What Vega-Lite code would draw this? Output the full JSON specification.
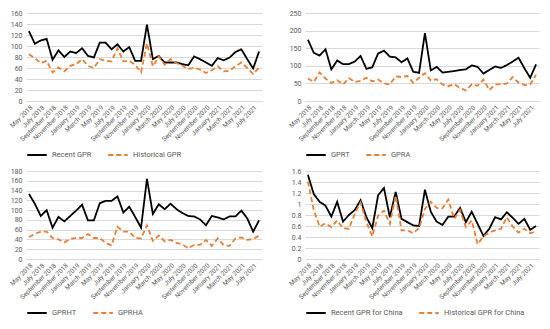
{
  "$schema": "https://vega.github.io/schema/vega-lite/v6.json",
  "padding": {"left": 8, "top": 9, "right": 6, "bottom": 2},
  "background": "white",
  "datasets": {
    "d": [
      {"m": "May 2018", "Recent GPR": 127, "Historical GPR": 85, "GPRT": 174, "GPRA": 64, "GPRHT": 133, "GPRHA": 45, "Recent GPR for China": 1.53, "Historical GPR for China": 1.41},
      {"m": "June 2018", "Recent GPR": 104, "Historical GPR": 78, "GPRT": 137, "GPRA": 54, "GPRHT": 113, "GPRHA": 51, "Recent GPR for China": 1.18, "Historical GPR for China": 0.89},
      {"m": "July 2018", "Recent GPR": 110, "Historical GPR": 69, "GPRT": 129, "GPRA": 81, "GPRHT": 88, "GPRHA": 56, "Recent GPR for China": 1.04, "Historical GPR for China": 0.59},
      {"m": "August 2018", "Recent GPR": 113, "Historical GPR": 73, "GPRT": 147, "GPRA": 64, "GPRHT": 100, "GPRHA": 56, "Recent GPR for China": 0.97, "Historical GPR for China": 0.65},
      {"m": "September 2018", "Recent GPR": 75, "Historical GPR": 52, "GPRT": 90, "GPRA": 51, "GPRHT": 64, "GPRHA": 43, "Recent GPR for China": 0.77, "Historical GPR for China": 0.58},
      {"m": "October 2018", "Recent GPR": 92, "Historical GPR": 61, "GPRT": 115, "GPRA": 59, "GPRHT": 86, "GPRHA": 40, "Recent GPR for China": 1.04, "Historical GPR for China": 0.70},
      {"m": "November 2018", "Recent GPR": 80, "Historical GPR": 54, "GPRT": 105, "GPRA": 47, "GPRHT": 77, "GPRHA": 34, "Recent GPR for China": 0.68, "Historical GPR for China": 0.56},
      {"m": "December 2018", "Recent GPR": 90, "Historical GPR": 64, "GPRT": 105, "GPRA": 65, "GPRHT": 88, "GPRHA": 41, "Recent GPR for China": 0.80, "Historical GPR for China": 0.55},
      {"m": "January 2019", "Recent GPR": 87, "Historical GPR": 67, "GPRT": 112, "GPRA": 54, "GPRHT": 99, "GPRHA": 43, "Recent GPR for China": 0.89, "Historical GPR for China": 0.82},
      {"m": "February 2019", "Recent GPR": 96, "Historical GPR": 76, "GPRT": 128, "GPRA": 57, "GPRHT": 111, "GPRHA": 43, "Recent GPR for China": 1.07, "Historical GPR for China": 1.03},
      {"m": "March 2019", "Recent GPR": 82, "Historical GPR": 64, "GPRT": 91, "GPRA": 66, "GPRHT": 79, "GPRHA": 51, "Recent GPR for China": 0.76, "Historical GPR for China": 0.67},
      {"m": "April 2019", "Recent GPR": 79, "Historical GPR": 60, "GPRT": 96, "GPRA": 56, "GPRHT": 79, "GPRHA": 43, "Recent GPR for China": 0.56, "Historical GPR for China": 0.41},
      {"m": "May 2019", "Recent GPR": 106, "Historical GPR": 76, "GPRT": 135, "GPRA": 61, "GPRHT": 114, "GPRHA": 43, "Recent GPR for China": 1.16, "Historical GPR for China": 0.79},
      {"m": "June 2019", "Recent GPR": 106, "Historical GPR": 73, "GPRT": 143, "GPRA": 50, "GPRHT": 119, "GPRHA": 33, "Recent GPR for China": 1.29, "Historical GPR for China": 0.88},
      {"m": "July 2019", "Recent GPR": 94, "Historical GPR": 72, "GPRT": 126, "GPRA": 47, "GPRHT": 119, "GPRHA": 28, "Recent GPR for China": 0.76, "Historical GPR for China": 0.64},
      {"m": "August 2019", "Recent GPR": 103, "Historical GPR": 96, "GPRT": 124, "GPRA": 70, "GPRHT": 128, "GPRHA": 66, "Recent GPR for China": 1.22, "Historical GPR for China": 1.15},
      {"m": "September 2019", "Recent GPR": 90, "Historical GPR": 72, "GPRT": 110, "GPRA": 68, "GPRHT": 95, "GPRHA": 56, "Recent GPR for China": 0.73, "Historical GPR for China": 0.52},
      {"m": "October 2019", "Recent GPR": 98, "Historical GPR": 73, "GPRT": 121, "GPRA": 71, "GPRHT": 107, "GPRHA": 56, "Recent GPR for China": 0.67, "Historical GPR for China": 0.52},
      {"m": "November 2019", "Recent GPR": 73, "Historical GPR": 66, "GPRT": 83, "GPRA": 52, "GPRHT": 86, "GPRHA": 43, "Recent GPR for China": 0.61, "Historical GPR for China": 0.47},
      {"m": "December 2019", "Recent GPR": 73, "Historical GPR": 52, "GPRT": 80, "GPRA": 66, "GPRHT": 64, "GPRHA": 42, "Recent GPR for China": 0.60, "Historical GPR for China": 0.56},
      {"m": "January 2020", "Recent GPR": 139, "Historical GPR": 105, "GPRT": 193, "GPRA": 79, "GPRHT": 164, "GPRHA": 69, "Recent GPR for China": 1.26, "Historical GPR for China": 0.91},
      {"m": "February 2020", "Recent GPR": 76, "Historical GPR": 63, "GPRT": 87, "GPRA": 58, "GPRHT": 92, "GPRHA": 37, "Recent GPR for China": 0.86, "Historical GPR for China": 1.04},
      {"m": "March 2020", "Recent GPR": 82, "Historical GPR": 81, "GPRT": 97, "GPRA": 62, "GPRHT": 112, "GPRHA": 48, "Recent GPR for China": 0.68, "Historical GPR for China": 0.93},
      {"m": "April 2020", "Recent GPR": 70, "Historical GPR": 66, "GPRT": 81, "GPRA": 47, "GPRHT": 102, "GPRHA": 36, "Recent GPR for China": 0.62, "Historical GPR for China": 0.92},
      {"m": "May 2020", "Recent GPR": 70, "Historical GPR": 76, "GPRT": 83, "GPRA": 42, "GPRHT": 113, "GPRHA": 39, "Recent GPR for China": 0.77, "Historical GPR for China": 1.08},
      {"m": "June 2020", "Recent GPR": 70, "Historical GPR": 69, "GPRT": 85, "GPRA": 48, "GPRHT": 102, "GPRHA": 33, "Recent GPR for China": 0.77, "Historical GPR for China": 0.73},
      {"m": "July 2020", "Recent GPR": 67, "Historical GPR": 64, "GPRT": 88, "GPRA": 37, "GPRHT": 94, "GPRHA": 30, "Recent GPR for China": 0.93, "Historical GPR for China": 0.89},
      {"m": "August 2020", "Recent GPR": 65, "Historical GPR": 58, "GPRT": 90, "GPRA": 30, "GPRHT": 88, "GPRHA": 22, "Recent GPR for China": 0.67, "Historical GPR for China": 0.58},
      {"m": "September 2020", "Recent GPR": 81, "Historical GPR": 61, "GPRT": 101, "GPRA": 47, "GPRHT": 87, "GPRHA": 29, "Recent GPR for China": 0.86, "Historical GPR for China": 0.70},
      {"m": "October 2020", "Recent GPR": 76, "Historical GPR": 57, "GPRT": 97, "GPRA": 43, "GPRHT": 81, "GPRHA": 29, "Recent GPR for China": 0.64, "Historical GPR for China": 0.27},
      {"m": "November 2020", "Recent GPR": 70, "Historical GPR": 51, "GPRT": 78, "GPRA": 61, "GPRHT": 69, "GPRHA": 39, "Recent GPR for China": 0.42, "Historical GPR for China": 0.41},
      {"m": "December 2020", "Recent GPR": 64, "Historical GPR": 56, "GPRT": 88, "GPRA": 31, "GPRHT": 88, "GPRHA": 27, "Recent GPR for China": 0.55, "Historical GPR for China": 0.48},
      {"m": "January 2021", "Recent GPR": 78, "Historical GPR": 63, "GPRT": 98, "GPRA": 47, "GPRHT": 85, "GPRHA": 42, "Recent GPR for China": 0.76, "Historical GPR for China": 0.52},
      {"m": "February 2021", "Recent GPR": 74, "Historical GPR": 54, "GPRT": 94, "GPRA": 47, "GPRHT": 81, "GPRHA": 28, "Recent GPR for China": 0.72, "Historical GPR for China": 0.55},
      {"m": "March 2021", "Recent GPR": 79, "Historical GPR": 55, "GPRT": 102, "GPRA": 50, "GPRHT": 87, "GPRHA": 27, "Recent GPR for China": 0.85, "Historical GPR for China": 0.76},
      {"m": "April 2021", "Recent GPR": 89, "Historical GPR": 63, "GPRT": 112, "GPRA": 68, "GPRHT": 87, "GPRHA": 42, "Recent GPR for China": 0.75, "Historical GPR for China": 0.59},
      {"m": "May 2021", "Recent GPR": 94, "Historical GPR": 70, "GPRT": 123, "GPRA": 52, "GPRHT": 99, "GPRHA": 44, "Recent GPR for China": 0.64, "Historical GPR for China": 0.48},
      {"m": "June 2021", "Recent GPR": 76, "Historical GPR": 60, "GPRT": 93, "GPRA": 45, "GPRHT": 83, "GPRHA": 39, "Recent GPR for China": 0.73, "Historical GPR for China": 0.55},
      {"m": "July 2021", "Recent GPR": 59, "Historical GPR": 49, "GPRT": 66, "GPRA": 47, "GPRHT": 56, "GPRHA": 41, "Recent GPR for China": 0.53, "Historical GPR for China": 0.47},
      {"m": "August 2021", "Recent GPR": 90, "Historical GPR": 61, "GPRT": 104, "GPRA": 75, "GPRHT": 79, "GPRHA": 48, "Recent GPR for China": 0.60, "Historical GPR for China": 0.50}
    ]
  },
  "config": {
    "font": "Roboto",
    "view": {"stroke": null},
    "axis": {"labelColor": "#595959", "labelFontSize": 7, "ticks": false, "title": null, "gridColor": "#d9d9d9", "domainColor": "#d9d9d9", "labelPadding": 4},
    "axisX": {"labelAngle": -45, "grid": false, "domain": true, "labelFontSize": 6.5, "labelPadding": 3},
    "axisY": {"domain": false, "grid": true},
    "legend": {"orient": "bottom", "direction": "horizontal", "title": null, "labelColor": "#595959", "labelFontSize": 7.5, "symbolType": "stroke", "symbolSize": 380, "symbolStrokeWidth": 2, "columnPadding": 12, "offset": 1, "padding": 0}
  },
  "spacing": 8,
  "resolve": {"scale": {"color": "independent", "strokeDash": "independent", "y": "independent", "x": "independent"}, "legend": {"color": "independent", "strokeDash": "independent"}},
  "vconcat": [
    {
      "spacing": 24,
      "resolve": {"scale": {"color": "independent", "strokeDash": "independent", "y": "independent", "x": "independent"}, "legend": {"color": "independent", "strokeDash": "independent"}},
      "hconcat": [
        {
          "width": 236, "height": 88,
          "data": {"name": "d"},
          "transform": [{"fold": ["Recent GPR", "Historical GPR"], "as": ["s", "v"]}],
          "mark": {"type": "line", "strokeWidth": 1.8},
          "encoding": {
            "x": {"field": "m", "type": "ordinal", "sort": null, "scale": {"type": "point", "padding": 0.5}, "axis": {"values": ["May 2018", "July 2018", "September 2018", "November 2018", "January 2019", "March 2019", "May 2019", "July 2019", "September 2019", "November 2019", "January 2020", "March 2020", "May 2020", "July 2020", "September 2020", "November 2020", "January 2021", "March 2021", "May 2021", "July 2021"]}},
            "y": {"field": "v", "type": "quantitative", "scale": {"domain": [0, 160]}, "axis": {"values": [0, 20, 40, 60, 80, 100, 120, 140, 160]}},
            "color": {"field": "s", "type": "nominal", "scale": {"domain": ["Recent GPR", "Historical GPR"], "range": ["#000000", "#ED7D31"]}},
            "strokeDash": {"field": "s", "type": "nominal", "scale": {"domain": ["Recent GPR", "Historical GPR"], "range": [[1, 0], [5, 3]]}}
          }
        },
        {
          "width": 234, "height": 88,
          "data": {"name": "d"},
          "transform": [{"fold": ["GPRT", "GPRA"], "as": ["s", "v"]}],
          "mark": {"type": "line", "strokeWidth": 1.8},
          "encoding": {
            "x": {"field": "m", "type": "ordinal", "sort": null, "scale": {"type": "point", "padding": 0.5}, "axis": {"values": ["May 2018", "July 2018", "September 2018", "November 2018", "January 2019", "March 2019", "May 2019", "July 2019", "September 2019", "November 2019", "January 2020", "March 2020", "May 2020", "July 2020", "September 2020", "November 2020", "January 2021", "March 2021", "May 2021", "July 2021"]}},
            "y": {"field": "v", "type": "quantitative", "scale": {"domain": [0, 250]}, "axis": {"values": [0, 50, 100, 150, 200, 250]}},
            "color": {"field": "s", "type": "nominal", "scale": {"domain": ["GPRT", "GPRA"], "range": ["#000000", "#ED7D31"]}},
            "strokeDash": {"field": "s", "type": "nominal", "scale": {"domain": ["GPRT", "GPRA"], "range": [[1, 0], [5, 3]]}}
          }
        }
      ]
    },
    {
      "spacing": 24,
      "resolve": {"scale": {"color": "independent", "strokeDash": "independent", "y": "independent", "x": "independent"}, "legend": {"color": "independent", "strokeDash": "independent"}},
      "hconcat": [
        {
          "width": 236, "height": 88,
          "data": {"name": "d"},
          "transform": [{"fold": ["GPRHT", "GPRHA"], "as": ["s", "v"]}],
          "mark": {"type": "line", "strokeWidth": 1.8},
          "encoding": {
            "x": {"field": "m", "type": "ordinal", "sort": null, "scale": {"type": "point", "padding": 0.5}, "axis": {"values": ["May 2018", "July 2018", "September 2018", "November 2018", "January 2019", "March 2019", "May 2019", "July 2019", "September 2019", "November 2019", "January 2020", "March 2020", "May 2020", "July 2020", "September 2020", "November 2020", "January 2021", "March 2021", "May 2021", "July 2021"]}},
            "y": {"field": "v", "type": "quantitative", "scale": {"domain": [0, 180]}, "axis": {"values": [0, 20, 40, 60, 80, 100, 120, 140, 160, 180]}},
            "color": {"field": "s", "type": "nominal", "scale": {"domain": ["GPRHT", "GPRHA"], "range": ["#000000", "#ED7D31"]}},
            "strokeDash": {"field": "s", "type": "nominal", "scale": {"domain": ["GPRHT", "GPRHA"], "range": [[1, 0], [5, 3]]}}
          }
        },
        {
          "width": 234, "height": 88,
          "data": {"name": "d"},
          "transform": [{"fold": ["Recent GPR for China", "Historical GPR for China"], "as": ["s", "v"]}],
          "mark": {"type": "line", "strokeWidth": 1.8},
          "encoding": {
            "x": {"field": "m", "type": "ordinal", "sort": null, "scale": {"type": "point", "padding": 0.5}, "axis": {"values": ["May 2018", "July 2018", "September 2018", "November 2018", "January 2019", "March 2019", "May 2019", "July 2019", "September 2019", "November 2019", "January 2020", "March 2020", "May 2020", "July 2020", "September 2020", "November 2020", "January 2021", "March 2021", "May 2021", "July 2021"]}},
            "y": {"field": "v", "type": "quantitative", "scale": {"domain": [0, 1.6]}, "axis": {"values": [0, 0.2, 0.4, 0.6, 0.8, 1, 1.2, 1.4, 1.6], "format": "~g"}},
            "color": {"field": "s", "type": "nominal", "scale": {"domain": ["Recent GPR for China", "Historical GPR for China"], "range": ["#000000", "#ED7D31"]}},
            "strokeDash": {"field": "s", "type": "nominal", "scale": {"domain": ["Recent GPR for China", "Historical GPR for China"], "range": [[1, 0], [5, 3]]}}
          }
        }
      ]
    }
  ]
}
